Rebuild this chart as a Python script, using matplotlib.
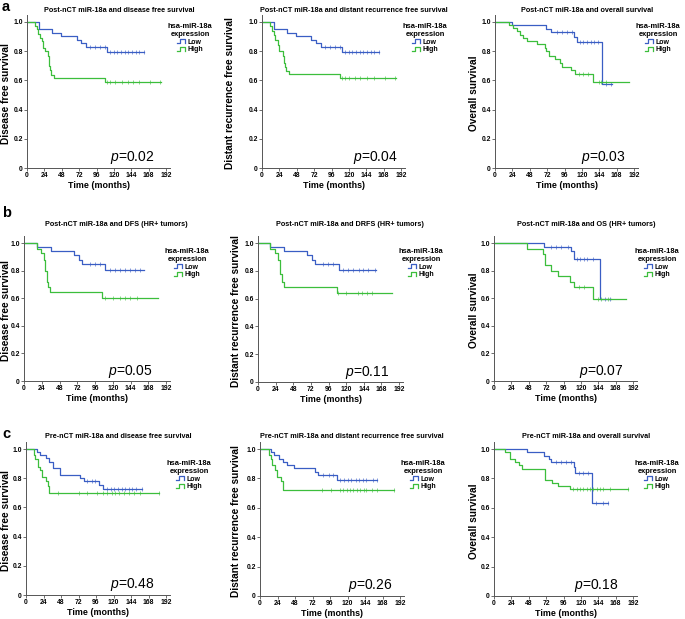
import numpy as np
import matplotlib
matplotlib.use('Agg')
import matplotlib.pyplot as plt
from matplotlib.legend_handler import HandlerBase
from matplotlib.lines import Line2D

plt.rcParams['font.family'] = ['Liberation Sans', 'DejaVu Sans']
plt.rcParams['mathtext.fontset'] = 'custom'
plt.rcParams['mathtext.it'] = 'Liberation Sans:italic'
plt.rcParams['mathtext.rm'] = 'Liberation Sans'

# ---- data (months, survival fraction) ----
titles = ['Post-nCT miR-18a and disease free survival',
          'Post-nCT miR-18a and distant recurrence free survival',
          'Post-nCT miR-18a and overall survival',
          'Post-nCT miR-18a and DFS (HR+ tumors)',
          'Post-nCT miR-18a and DRFS (HR+ tumors)',
          'Post-nCT miR-18a and OS (HR+ tumors)',
          'Pre-nCT miR-18a and disease free survival',
          'Pre-nCT miR-18a and distant recurrence free survival',
          'Pre-nCT miR-18a and overall survival']
ylabels = ['Disease free survival', 'Distant recurrence free survival', 'Overall survival'] * 3
pvalues = ['0.02', '0.04', '0.03', '0.05', '0.11', '0.07', '0.48', '0.26', '0.18']
xticks = [0, 24, 48, 72, 96, 120, 144, 168, 192]
yticks = [0, 0.2, 0.4, 0.6, 0.8, 1.0]
ytick_labels = ['0', '0.2', '0.4', '0.6', '0.8', '1.0']
groups = ['Low', 'High']

# a1 post-nCT DFS
a1_low_t = [16, 35, 47, 69, 75, 81, 111]
a1_low_s = [0.952, 0.927, 0.901, 0.878, 0.853, 0.828, 0.794]
a1_low_c = [87, 94, 101, 108, 115, 120, 125, 130, 135, 140, 145, 150, 155, 161]
a1_high_t = [11.5, 13.5, 15, 17.5, 20.5, 22, 25, 28.5, 31, 32, 33.5, 37, 108]
a1_high_s = [0.97, 0.95, 0.92, 0.89, 0.87, 0.82, 0.80, 0.77, 0.70, 0.67, 0.64, 0.615, 0.592]
a1_high_c = [110, 115, 122, 131, 139, 146, 155, 170, 184]
# a2 post-nCT DRFS
a2_low_t = [16, 35, 47, 68, 75, 81, 111]
a2_low_s = [0.952, 0.927, 0.901, 0.878, 0.853, 0.828, 0.794]
a2_low_c = [87, 94, 101, 108, 115, 120, 125, 130, 135, 140, 145, 150, 155, 161]
a2_high_t = [11.5, 14, 16, 18, 21.5, 23, 28.5, 31, 32, 33.5, 37, 108]
a2_high_s = [0.97, 0.94, 0.91, 0.88, 0.84, 0.80, 0.77, 0.72, 0.69, 0.665, 0.642, 0.615]
a2_high_c = [110, 115, 120, 128, 136, 145, 155, 170, 184]
# a3 post-nCT OS
a3_low_t = [24, 71, 78, 109, 113, 148]
a3_low_s = [0.977, 0.953, 0.929, 0.90, 0.86, 0.573]
a3_low_c = [86, 93, 100, 107, 117, 122, 127, 132, 137, 142, 154, 160]
a3_high_t = [20, 25, 30, 35, 39, 44, 57.5, 69, 71, 75, 83, 90, 92, 105, 110.5, 136]
a3_high_s = [0.98, 0.96, 0.935, 0.91, 0.89, 0.87, 0.848, 0.825, 0.80, 0.768, 0.745,
             0.72, 0.695, 0.67, 0.645, 0.587]
a3_high_c = [116, 122, 129, 143, 147, 154]
# b1 DFS HR+
b1_low_t = [17, 36, 67.5, 74, 78, 110]
b1_low_s = [0.971, 0.942, 0.913, 0.88, 0.85, 0.804]
b1_low_c = [89, 96, 103, 116, 123, 130, 137, 143, 150, 157]
b1_high_t = [17, 22.5, 27, 29, 30.5, 32, 35, 106]
b1_high_s = [0.96, 0.93, 0.88, 0.80, 0.72, 0.68, 0.642, 0.60]
b1_high_c = [110, 121, 130, 137, 143, 153]
# b2 DRFS HR+
b2_low_t = [17, 35.5, 67, 74, 78, 110]
b2_low_s = [0.971, 0.942, 0.913, 0.88, 0.85, 0.804]
b2_low_c = [89, 95.5, 102, 116, 123, 130, 137, 143, 150, 159]
b2_high_t = [17, 23, 27, 29.5, 32, 35, 107]
b2_high_s = [0.96, 0.93, 0.88, 0.78, 0.72, 0.68, 0.643]
b2_high_c = [109, 120, 136, 141, 148, 155]
# b3 OS HR+
b3_low_t = [69, 107, 110, 147]
b3_low_s = [0.971, 0.94, 0.886, 0.595]
b3_low_c = [79, 86, 93, 102, 114, 119, 124, 129, 137, 153, 160]
b3_high_t = [46, 67, 71, 79, 89, 104.5, 110, 137]
b3_high_s = [0.959, 0.92, 0.842, 0.80, 0.76, 0.72, 0.68, 0.595]
b3_high_c = [118, 125, 144, 148, 157]
# c1 pre-nCT DFS
c1_low_t = [14.7, 19, 28, 31.6, 37.6, 47, 74, 79, 99.5, 105]
c1_low_s = [0.98, 0.957, 0.935, 0.91, 0.87, 0.824, 0.80, 0.783, 0.755, 0.725]
c1_low_c = [84, 90, 95, 111, 116, 121, 126, 131, 136, 141, 146, 151, 159]
c1_high_t = [11.5, 13, 16, 19, 21.5, 27.5, 30, 31.6]
c1_high_s = [0.96, 0.93, 0.88, 0.855, 0.808, 0.78, 0.745, 0.698]
c1_high_c = [44, 72, 83, 97, 106, 111, 118, 122, 127, 134, 141, 148, 157, 183]
# c2 pre-nCT DRFS
c2_low_t = [14.6, 19, 26, 31, 36.6, 47, 75.4, 80, 106]
c2_low_s = [0.98, 0.96, 0.935, 0.91, 0.89, 0.868, 0.845, 0.82, 0.79]
c2_low_c = [87, 94, 100.6, 110, 115, 120, 125, 131, 136, 141, 146, 155, 160]
c2_high_t = [12.3, 14.6, 17, 20.6, 23, 29, 32]
c2_high_s = [0.96, 0.93, 0.89, 0.86, 0.81, 0.78, 0.723]
c2_high_c = [84.6, 98, 110, 114, 119, 123, 128, 133, 137, 142, 146, 153, 160, 184]
# c3 pre-nCT OS
c3_low_t = [45.6, 69, 75.5, 79, 110, 111.4, 136]
c3_low_s = [0.977, 0.955, 0.935, 0.911, 0.88, 0.84, 0.63]
c3_low_c = [86, 93, 100, 107, 117, 123, 130, 141, 150.5, 158]
c3_high_t = [14.7, 21.6, 28.5, 34, 39, 71, 80, 88, 104.5]
c3_high_s = [0.98, 0.934, 0.91, 0.89, 0.866, 0.79, 0.768, 0.75, 0.727]
c3_high_c = [109, 114, 119, 123, 128, 133, 137, 142, 146, 150, 160, 185]

last_low = [161, 161, 162, 162, 161, 162, 159, 160, 158]
last_high = [185, 185, 185, 181, 183, 183, 183, 184, 185]

curves = [
    (a1_low_t, a1_low_s, a1_low_c, a1_high_t, a1_high_s, a1_high_c),
    (a2_low_t, a2_low_s, a2_low_c, a2_high_t, a2_high_s, a2_high_c),
    (a3_low_t, a3_low_s, a3_low_c, a3_high_t, a3_high_s, a3_high_c),
    (b1_low_t, b1_low_s, b1_low_c, b1_high_t, b1_high_s, b1_high_c),
    (b2_low_t, b2_low_s, b2_low_c, b2_high_t, b2_high_s, b2_high_c),
    (b3_low_t, b3_low_s, b3_low_c, b3_high_t, b3_high_s, b3_high_c),
    (c1_low_t, c1_low_s, c1_low_c, c1_high_t, c1_high_s, c1_high_c),
    (c2_low_t, c2_low_s, c2_low_c, c2_high_t, c2_high_s, c2_high_c),
    (c3_low_t, c3_low_s, c3_low_c, c3_high_t, c3_high_s, c3_high_c),
]

# ---- layout in pixels: (x at 0, x at 192, y at 0, y at 1.0) ----
W, H = 685, 619
boxes = [(27, 166, 168, 22), (262, 401, 168, 22), (495, 634, 168, 22),
         (24, 166, 381, 243), (258, 399, 382, 243), (494, 633, 381, 243),
         (26, 166, 595, 449), (260, 400, 596, 449), (494, 633, 596, 449)]
title_y = [10, 10, 10, 224, 224, 224, 437, 437, 437]
legend_y = [20, 20, 20, 245, 245, 245, 457, 457, 457]
ylabel_x = [6, 230, 474, 6, 236, 474, 6, 236, 474]
p_x = [115, 126, 119, 114, 119, 117, 115, 120, 111]
letters = [('a', 7), ('b', 213), ('c', 434)]

BLUE = '#3a5ec4'
GREEN = '#3cbe3c'
AXC = '#555555'


class StepHandler(HandlerBase):
    def create_artists(self, legend, orig_handle, xdescent, ydescent,
                       width, height, fontsize, trans):
        x = np.array([0, 0.3, 0.3, 0.9, 0.9]) * width - xdescent
        y = np.array([0.1, 0.1, 0.9, 0.9, 0.1]) * height - ydescent
        ln = Line2D(x, y, color=orig_handle.get_color(), lw=0.9)
        ln.set_transform(trans)
        return [ln]


def km_curve(ax, t, s, cens, end, color):
    times = np.concatenate([[0], t, [end]])
    surv = np.concatenate([[1.0], s, [s[-1]]])
    line, = ax.step(times, surv, where='post', color=color, lw=0.9)
    idx = np.searchsorted(times, cens, side='right') - 1
    ax.plot(cens, surv[idx], linestyle='none', marker='|', ms=3, mew=0.6,
            color=color, alpha=0.7)
    return line


fig = plt.figure(figsize=(W / 100, H / 100), dpi=100)

for i in range(9):
    x0, x1, yb, yt = boxes[i]
    pxm = (x1 - x0) / 192.0
    pyu = (yb - yt)
    rect = [x0 / W, 1 - yb / H, pxm * 198 / W, pyu * 1.05 / H]
    ax = fig.add_axes(rect)
    lt, ls, lc, ht, hs, hc = curves[i]
    l1 = km_curve(ax, lt, ls, lc, last_low[i], BLUE)
    l2 = km_curve(ax, ht, hs, hc, last_high[i], GREEN)

    ax.set_xlim(0, 198)
    ax.set_ylim(0, 1.05)
    ax.set_xticks(xticks)
    ax.set_xticklabels([str(v) for v in xticks])
    ax.set_yticks(yticks)
    ax.set_yticklabels(ytick_labels)
    for side in ['top', 'right']:
        ax.spines[side].set_visible(False)
    for side in ['left', 'bottom']:
        ax.spines[side].set_color(AXC)
        ax.spines[side].set_linewidth(0.7)
    ax.tick_params(length=2, width=0.6, color=AXC, pad=1, labelsize=4.9)
    for lab in ax.get_xticklabels() + ax.get_yticklabels():
        lab.set_fontweight('bold')
    ax.set_xlabel('Time (months)', fontsize=6.4, fontweight='bold', labelpad=1.5)

    # y label placed in figure pixels
    fig.text(ylabel_x[i] / W, 1 - (yb - 0.51 * pyu) / H, ylabels[i], rotation=90,
             fontsize=7.3, fontweight='bold', ha='center', va='center')

    ax.text(p_x[i], 0.045, r'$p$=' + pvalues[i], fontsize=10, ha='left', va='baseline')

    fig.text((x0 + 92) / W, 1 - title_y[i] / H, titles[i], fontsize=5.2,
             fontweight='bold', ha='center', va='center')

    leg = ax.legend([l1, l2], groups, title='hsa-miR-18a\nexpression',
                    handler_map={Line2D: StepHandler()},
                    loc='upper center', bbox_to_anchor=((x0 + 163) / W, 1 - legend_y[i] / H),
                    bbox_transform=fig.transFigure, frameon=False, fontsize=5.0,
                    title_fontsize=5.4, handlelength=1.3, handletextpad=0.2,
                    borderpad=0, labelspacing=0.05)
    leg.get_title().set_fontweight('bold')
    leg.get_title().set_multialignment('center')
    for txt in leg.get_texts():
        txt.set_fontweight('bold')

for letter, y in letters:
    fig.text(2 / W, 1 - y / H, letter, fontsize=10.5, fontweight='bold', ha='left', va='center')

fig.savefig('out.png', dpi=100)
